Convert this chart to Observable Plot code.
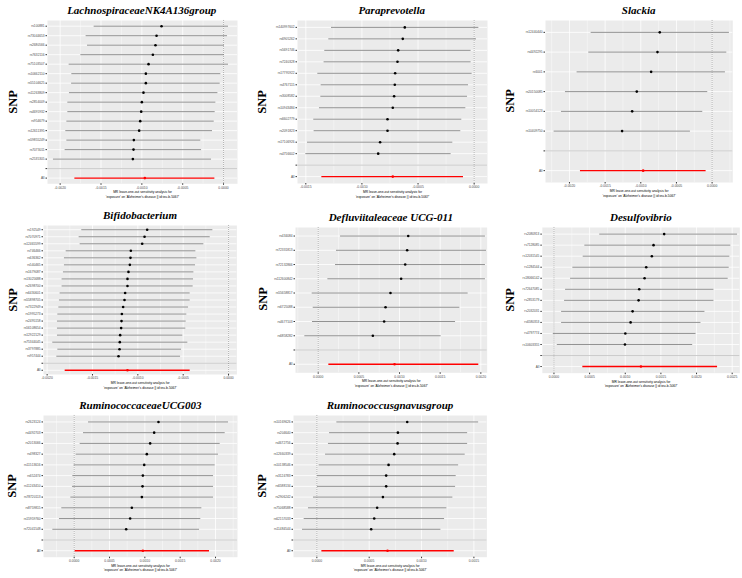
<!DOCTYPE html>
<html><head><meta charset="utf-8">
<script src="https://cdn.jsdelivr.net/npm/d3@7"></script>
<script src="https://cdn.jsdelivr.net/npm/@observablehq/plot@0.6"></script>
<style>
html,body{margin:0;padding:0;background:#fff;}
#root{position:relative;width:742px;height:578px;overflow:hidden;background:#fff;}
.title{position:absolute;width:300px;text-align:center;font-family:"Liberation Serif","Times New Roman",serif;font-weight:bold;font-style:italic;font-size:11px;line-height:12px;color:#000;white-space:nowrap;}
.snp{position:absolute;font-family:"Liberation Serif","Times New Roman",serif;font-weight:bold;font-size:12.5px;line-height:12px;color:#000;transform:translate(-50%,-50%) rotate(-90deg);white-space:nowrap;}
.panel{position:absolute;}
.panel svg{display:block;}
</style></head><body><div id="root"></div>
<script>
// ---------- data ----------
const xLabel1 = "MR leave-one-out sensitivity analysis for";
const xLabel2 = "'exposure' on 'Alzheimer's disease || id:ieu-b-5067'";

const lachnoTitle = "LachnospiraceaeNK4A136group";
const lachnoSNP = ["rs100881","rs73044653","rs2680566","rs7632116","rs75103507","rs10662110","rs55104625","rs11263809","rs2854009","rs4695932","rs954679","rs12611395","rs59855249","rs7073011","rs2535305"];
const lachnoB  = [-0.000759,-0.000820,-0.000833,-0.000865,-0.000918,-0.000951,-0.000951,-0.000980,-0.001000,-0.001008,-0.001020,-0.001033,-0.001098,-0.001102,-0.001110];
const lachnoLo = [-0.001584,-0.001682,-0.001665,-0.001747,-0.001890,-0.001857,-0.001860,-0.001886,-0.001906,-0.001906,-0.001918,-0.001931,-0.001918,-0.001939,-0.002082];
const lachnoHi = [0.000061,0.000049,0.000012,0.000012,0.000061,-0.000033,-0.000041,-0.000069,-0.000094,-0.000102,-0.000114,-0.000135,-0.000278,-0.000269,-0.000147];
const lachnoAll = [-0.000963,-0.001820,-0.000106];
const lachnoTicks = [-0.002,-0.0015,-0.001,-0.0005,0];

const paraTitle = "Paraprevotella";
const paraSNP = ["rs140997602","rs6905262","rs5691746","rs7240328","rs17795922","rs4767115","rs3008582","rs10943484","rs6602779","rs2091823","rs17106926","rs4756602"];
const paraB  = [-0.000618,-0.000636,-0.000677,-0.000683,-0.000704,-0.000707,-0.000713,-0.000725,-0.000772,-0.000772,-0.000838,-0.000855];
const paraLo = [-0.001271,-0.001295,-0.001331,-0.001337,-0.001393,-0.001363,-0.001366,-0.001378,-0.001429,-0.001426,-0.001485,-0.001500];
const paraHi = [0.000042,0.000021,-0.000027,-0.000027,-0.000018,-0.000050,-0.000059,-0.000074,-0.000110,-0.000119,-0.000190,-0.000205];
const paraAll = [-0.000725,-0.001357,-0.000095];
const paraTicks = [-0.0015,-0.001,-0.0005,0];

const slackiaTitle = "Slackia";
const slackiaSNP = ["rs12440440","rs4492295","rs6001","rs20150085","rs10054123","rs10409750"];
const slackiaB  = [-0.000734,-0.000766,-0.000855,-0.001056,-0.001121,-0.001262];
const slackiaLo = [-0.001696,-0.001729,-0.001893,-0.002056,-0.002112,-0.002215];
const slackiaHi = [0.000243,0.000206,0.000187,-0.000061,-0.000131,-0.000304];
const slackiaAll = [-0.000967,-0.001846,-0.000084];
const slackiaTicks = [-0.002,-0.0015,-0.001,-0.0005,0];

const bifidoTitle = "Bifidobacterium";
const bifidoSNP = ["rs192549","rs7070971","rs12465599","rs746466","rs636362","rs540465","rs1679087","rs13025688","rs2698700","rs6430601","rs55898705","rs7322949","rs1995273","rs2495158","rs56108654","rs12922129","rs75344045","rs3797885","rs957444"];
const bifidoB  = [-0.000897,-0.000926,-0.000952,-0.001077,-0.001081,-0.001088,-0.001103,-0.001114,-0.001114,-0.001140,-0.001147,-0.001162,-0.001176,-0.001180,-0.001184,-0.001195,-0.001199,-0.001202,-0.001213];
const bifidoLo = [-0.001618,-0.001647,-0.001636,-0.001790,-0.001809,-0.001809,-0.001820,-0.001835,-0.001835,-0.001857,-0.001864,-0.001871,-0.001882,-0.001886,-0.001886,-0.001886,-0.001938,-0.001882,-0.001893];
const bifidoHi = [-0.000173,-0.000202,-0.000272,-0.000360,-0.000349,-0.000364,-0.000382,-0.000386,-0.000390,-0.000423,-0.000423,-0.000441,-0.000460,-0.000467,-0.000471,-0.000504,-0.000449,-0.000518,-0.000529];
const bifidoAll = [-0.001114,-0.001801,-0.000423];
const bifidoTicks = [-0.002,-0.0015,-0.001,-0.0005,0];

const defluTitle = "Defluviitaleaceae UCG-011";
const defluSNP = ["rs434084","rs72331813","rs72132866","rs112600842","rs55658817","rs6725088","rs4677103","rs6858282"];
const defluB  = [0.001107,0.001094,0.001070,0.001020,0.000889,0.000828,0.000811,0.000672];
const defluLo = [0.000275,0.000225,0.000213,0.000119,-0.000074,-0.000061,-0.000070,-0.000164];
const defluHi = [0.002057,0.002070,0.002057,0.002057,0.001844,0.001742,0.001689,0.001512];
const defluAll = [0.000939,0.000131,0.001975];
const defluTicks = [0,0.0005,0.001,0.0015,0.002];

const desulfoTitle = "Desulfovibrio";
const desulfoSNP = ["rs2080913","rs7128085","rs12031545","rs1284544","rs18066142","rs72647085","rs2853179","rs2032031","rs6580353","rs4797774","rs10603355"];
const desulfoB  = [0.001546,0.001397,0.001373,0.001294,0.001271,0.001196,0.001187,0.001103,0.001075,0.001001,0.000996];
const desulfoLo = [0.000642,0.000433,0.000410,0.000265,0.000233,0.000163,0.000149,0.000107,0.000107,-0.000009,0.000047];
const desulfoHi = [0.002575,0.002481,0.002467,0.002458,0.002444,0.002244,0.002244,0.002118,0.002062,0.001993,0.001946];
const desulfoAll = [0.001220,0.000405,0.002295];
const desulfoTicks = [0,0.0005,0.001,0.0015,0.002,0.0025];

const rumiTitle = "RuminococcaceaeUCG003";
const rumiSNP = ["rs2623124","rs4492703","rs2013066","rs498327","rs11513616","rs652474","rs11243410","rs78720113","rs8759815","rs15959760","rs72041548"];
const rumiB  = [0.001193,0.001132,0.001075,0.001028,0.000991,0.000972,0.000967,0.000958,0.000816,0.000792,0.000736];
const rumiLo = [0.000203,0.000132,0.000085,0.000028,0.000000,-0.000019,-0.000024,-0.000047,-0.000175,-0.000208,-0.000302];
const rumiHi = [0.002184,0.002137,0.002066,0.002042,0.001995,0.001972,0.001972,0.001972,0.001807,0.001792,0.001774];
const rumiAll = [0.000972,0.000014,0.001915];
const rumiTicks = [0,0.0005,0.001,0.0015,0.002];

const gnavusTitle = "Ruminococcusgnavusgroup";
const gnavusSNP = ["rs10169626","rs204640","rs4672756","rs12660339","rs10138546","rs3124783","rs6588134","rs2906242","rs75068588","rs62157033","rs11484544"];
const gnavusB  = [0.000863,0.000774,0.000771,0.000739,0.000685,0.000662,0.000662,0.000631,0.000576,0.000548,0.000519];
const gnavusLo = [0.000191,0.000121,0.000111,0.000083,0.000022,0.000006,0.000006,-0.000032,-0.000080,-0.000121,-0.000137];
const gnavusHi = [0.001545,0.001440,0.001440,0.001417,0.001354,0.001331,0.001325,0.001299,0.001242,0.001220,0.001185];
const gnavusAll = [0.000675,0.000048,0.001312];
const gnavusTicks = [0,0.0005,0.001,0.0015];

// ---------- layout (page pixels of each panel background, and x extents) ----------
const panels = [
  {title: lachnoTitle, snp: lachnoSNP, b: lachnoB, lo: lachnoLo, hi: lachnoHi, all: lachnoAll, ticks: lachnoTicks, bg: [46.7, 20, 236.7, 183.3], domain: [-0.002155, 0.000171], snpX: 13},
  {title: paraTitle, snp: paraSNP, b: paraB, lo: paraLo, hi: paraHi, all: paraAll, ticks: paraTicks, bg: [296.7, 20, 486.7, 183], domain: [-0.001574, 0.000119], snpX: 262},
  {title: slackiaTitle, snp: slackiaSNP, b: slackiaB, lo: slackiaLo, hi: slackiaHi, all: slackiaAll, ticks: slackiaTicks, bg: [545, 20, 732.3, 182], domain: [-0.002336, 0.00029], snpX: 510},
  {title: bifidoTitle, snp: bifidoSNP, b: bifidoB, lo: bifidoLo, hi: bifidoHi, all: bifidoAll, ticks: bifidoTicks, bg: [43.3, 225, 236.7, 374], domain: [-0.00204, 0.000092], snpX: 12.7},
  {title: defluTitle, snp: defluSNP, b: defluB, lo: defluLo, hi: defluHi, all: defluAll, ticks: defluTicks, bg: [295, 226.7, 486.7, 372], domain: [-0.000279, 0.002078], snpX: 263.3},
  {title: desulfoTitle, snp: desulfoSNP, b: desulfoB, lo: desulfoLo, hi: desulfoHi, all: desulfoAll, ticks: desulfoTicks, bg: [541.7, 226.7, 740, 373], domain: [-0.000163, 0.002607], snpX: 510},
  {title: rumiTitle, snp: rumiSNP, b: rumiB, lo: rumiLo, hi: rumiHi, all: rumiAll, ticks: rumiTicks, bg: [43.3, 415, 237.3, 556.7], domain: [-0.000434, 0.002311], snpX: 12.3},
  {title: gnavusTitle, snp: gnavusSNP, b: gnavusB, lo: gnavusLo, hi: gnavusHi, all: gnavusAll, ticks: gnavusTicks, bg: [293.3, 415, 486.7, 556.7], domain: [-0.000223, 0.001624], snpX: 262.3}
];

const root = document.getElementById("root");
const ML = 40, MR = 3, MT = 2, MB = 18;

function drawPanel(p) {
  const [x0, y0, x1, y1] = p.bg;
  const W = x1 - x0, H = y1 - y0;
  const rows = p.snp.map((s, i) => ({snp: s, b: p.b[i], lo: p.lo[i], hi: p.hi[i]}));
  const all = [{snp: "All", b: p.all[0], lo: p.all[1], hi: p.all[2]}];
  const step = p.ticks[1] - p.ticks[0];
  const minor = [p.ticks[0] - step / 2, ...p.ticks.map(t => t + step / 2)]
    .filter(t => t > p.domain[0] && t < p.domain[1]);
  const chart = Plot.plot({
    width: W + ML + MR,
    height: H + MT + MB,
    marginLeft: ML, marginRight: MR, marginTop: MT, marginBottom: MB,
    x: {domain: p.domain},
    y: {type: "point", domain: [...p.snp, "", "All"], padding: 0.6, round: false},
    style: {background: "transparent", color: "#4d4d4d", fontFamily: "'Liberation Sans', Arial, sans-serif", overflow: "visible"},
    marks: [
      Plot.frame({fill: "#ebebeb", stroke: null}),
      Plot.gridX(minor, {stroke: "#ffffff", strokeOpacity: 1, strokeWidth: 0.4}),
      Plot.gridX(p.ticks, {stroke: "#ffffff", strokeOpacity: 1, strokeWidth: 0.8}),
      Plot.gridY({stroke: "#ffffff", strokeOpacity: 1, strokeWidth: 0.8}),
      Plot.ruleY([""], {stroke: "#bebebe", strokeWidth: 0.8}),
      Plot.ruleX([0], {stroke: "#666", strokeDasharray: "0.8,1.2", strokeWidth: 0.6}),
      Plot.ruleY(rows, {y: "snp", x1: "lo", x2: "hi", stroke: "#777777", strokeWidth: 0.8}),
      Plot.dot(rows, {x: "b", y: "snp", r: 1.3, fill: "#000", stroke: null}),
      Plot.ruleY(all, {y: "snp", x1: "lo", x2: "hi", stroke: "#ff0000", strokeWidth: 1.4}),
      Plot.dot(all, {x: "b", y: "snp", r: 1.3, fill: "#ff0000", stroke: null}),
      Plot.axisY({tickSize: 1.5, tickPadding: 1.5, fontSize: 3.2, label: null, stroke: "#333"}),
      Plot.axisX(p.ticks, {tickSize: 1.5, tickPadding: 1, fontSize: 3.4, label: null, stroke: "#333", tickFormat: d => d.toFixed(4)}),
      Plot.text([xLabel1], {frameAnchor: "bottom", dy: 9.7, fontSize: 3.3, fill: "#000"}),
      Plot.text([xLabel2], {frameAnchor: "bottom", dy: 14.2, fontSize: 3.3, fill: "#000"})
    ]
  });
  const wrap = document.createElement("div");
  wrap.className = "panel";
  wrap.style.left = (x0 - ML) + "px";
  wrap.style.top = (y0 - MT) + "px";
  wrap.appendChild(chart);
  root.appendChild(wrap);

  const t = document.createElement("div");
  t.className = "title";
  t.textContent = p.title;
  t.style.left = ((x0 + x1) / 2 - 150) + "px";
  t.style.top = (y0 - 16) + "px";
  root.appendChild(t);

  const s = document.createElement("div");
  s.className = "snp";
  s.textContent = "SNP";
  s.style.left = p.snpX + "px";
  s.style.top = ((y0 + y1) / 2) + "px";
  root.appendChild(s);
}
panels.forEach(drawPanel);
</script>
</body></html>
